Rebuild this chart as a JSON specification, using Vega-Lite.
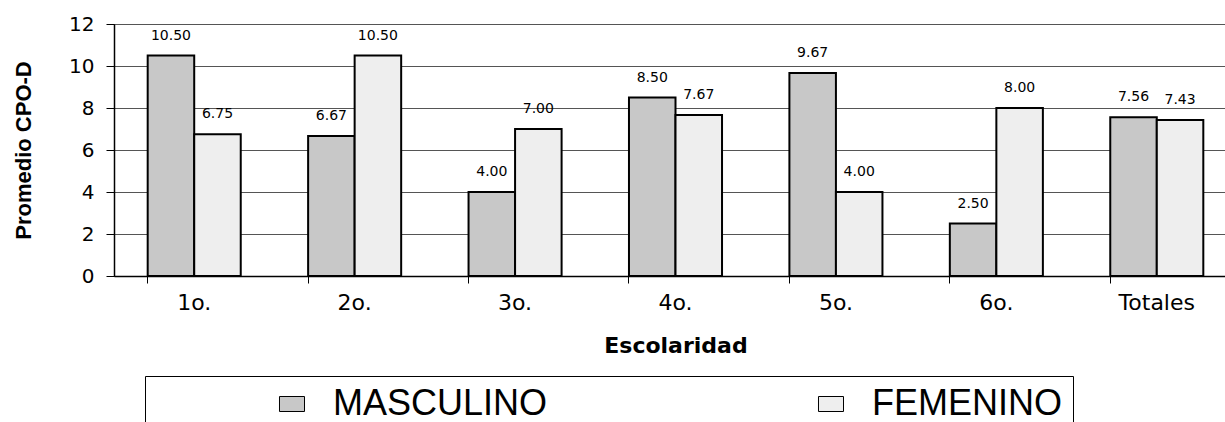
{
  "$schema": "https://vega.github.io/schema/vega-lite/v6.json",
  "autosize": "none",
  "width": 1123,
  "height": 252,
  "padding": {"left": 114, "top": 24, "right": 0, "bottom": 146},
  "background": "white",
  "config": {
    "view": {"stroke": "black", "strokeWidth": 1},
    "font": "DejaVu Sans"
  },
  "data": {
    "values": [
      {"grado": "1o.", "sexo": "MASCULINO", "valor": 10.50},
      {"grado": "1o.", "sexo": "FEMENINO", "valor": 6.75},
      {"grado": "2o.", "sexo": "MASCULINO", "valor": 6.67},
      {"grado": "2o.", "sexo": "FEMENINO", "valor": 10.50},
      {"grado": "3o.", "sexo": "MASCULINO", "valor": 4.00},
      {"grado": "3o.", "sexo": "FEMENINO", "valor": 7.00},
      {"grado": "4o.", "sexo": "MASCULINO", "valor": 8.50},
      {"grado": "4o.", "sexo": "FEMENINO", "valor": 7.67},
      {"grado": "5o.", "sexo": "MASCULINO", "valor": 9.67},
      {"grado": "5o.", "sexo": "FEMENINO", "valor": 4.00},
      {"grado": "6o.", "sexo": "MASCULINO", "valor": 2.50},
      {"grado": "6o.", "sexo": "FEMENINO", "valor": 8.00},
      {"grado": "Totales", "sexo": "MASCULINO", "valor": 7.56},
      {"grado": "Totales", "sexo": "FEMENINO", "valor": 7.43}
    ]
  },
  "encoding": {
    "x": {
      "field": "grado",
      "type": "nominal",
      "sort": ["1o.", "2o.", "3o.", "4o.", "5o.", "6o.", "Totales"],
      "scale": {"paddingInner": 0.42, "paddingOuter": 0.21},
      "axis": {
        "title": "Escolaridad",
        "titleFont": "DejaVu Sans",
        "titleFontSize": 22,
        "titleFontWeight": "bold",
        "titleColor": "black",
        "titlePadding": 22,
        "labelAngle": 0,
        "labelFont": "DejaVu Sans",
        "labelFontSize": 22,
        "labelColor": "black",
        "labelPadding": 9,
        "bandPosition": 0,
        "domainColor": "black",
        "domainWidth": 1.5,
        "tickColor": "black",
        "tickSize": 7,
        "grid": false
      }
    },
    "xOffset": {"field": "sexo", "type": "nominal", "sort": ["MASCULINO", "FEMENINO"], "scale": {"paddingInner": 0, "paddingOuter": 0}},
    "y": {
      "field": "valor",
      "type": "quantitative",
      "scale": {"domain": [0, 12], "nice": false},
      "axis": {
        "title": "Promedio CPO-D",
        "titleFont": "Liberation Sans",
        "titleFontSize": 22,
        "titleFontWeight": "bold",
        "titleColor": "black",
        "titleAngle": -90,
        "titleX": -91,
        "titleY": 126,
        "titleAlign": "center",
        "titleBaseline": "middle",
        "values": [0, 2, 4, 6, 8, 10, 12],
        "labelFont": "DejaVu Sans",
        "labelFontSize": 20,
        "labelColor": "black",
        "labelPadding": 12,
        "domainColor": "black",
        "domainWidth": 1.5,
        "tickColor": "black",
        "tickSize": 8,
        "grid": true,
        "gridColor": "#555555",
        "gridWidth": 1
      }
    }
  },
  "layer": [
    {
      "mark": {"type": "bar", "stroke": "black", "strokeWidth": 2},
      "encoding": {
        "color": {
          "field": "sexo",
          "type": "nominal",
          "sort": ["MASCULINO", "FEMENINO"],
          "scale": {"domain": ["MASCULINO", "FEMENINO"], "range": ["#c8c8c8", "#eeeeee"]},
          "legend": {
            "orient": "none",
            "legendX": 31,
            "legendY": 352,
            "direction": "horizontal",
            "columns": 2,
            "title": null,
            "strokeColor": "black",
            "fillColor": "white",
            "padding": 10,
            "symbolType": "M-1.667,-1H1.667V1H-1.667Z",
            "symbolSize": 225,
            "symbolStrokeColor": "black",
            "symbolStrokeWidth": 1,
            "symbolOffset": 119,
            "labelFont": "Liberation Sans",
            "labelFontSize": 36,
            "labelColor": "black",
            "labelLimit": 800,
            "labelOffset": 23,
            "columnPadding": 146
          }
        }
      }
    },
    {
      "mark": {"type": "text", "baseline": "bottom", "dy": -13, "font": "DejaVu Sans", "fontSize": 14, "color": "black"},
      "encoding": {
        "text": {"field": "valor", "type": "quantitative", "format": ".2f"}
      }
    }
  ]
}
